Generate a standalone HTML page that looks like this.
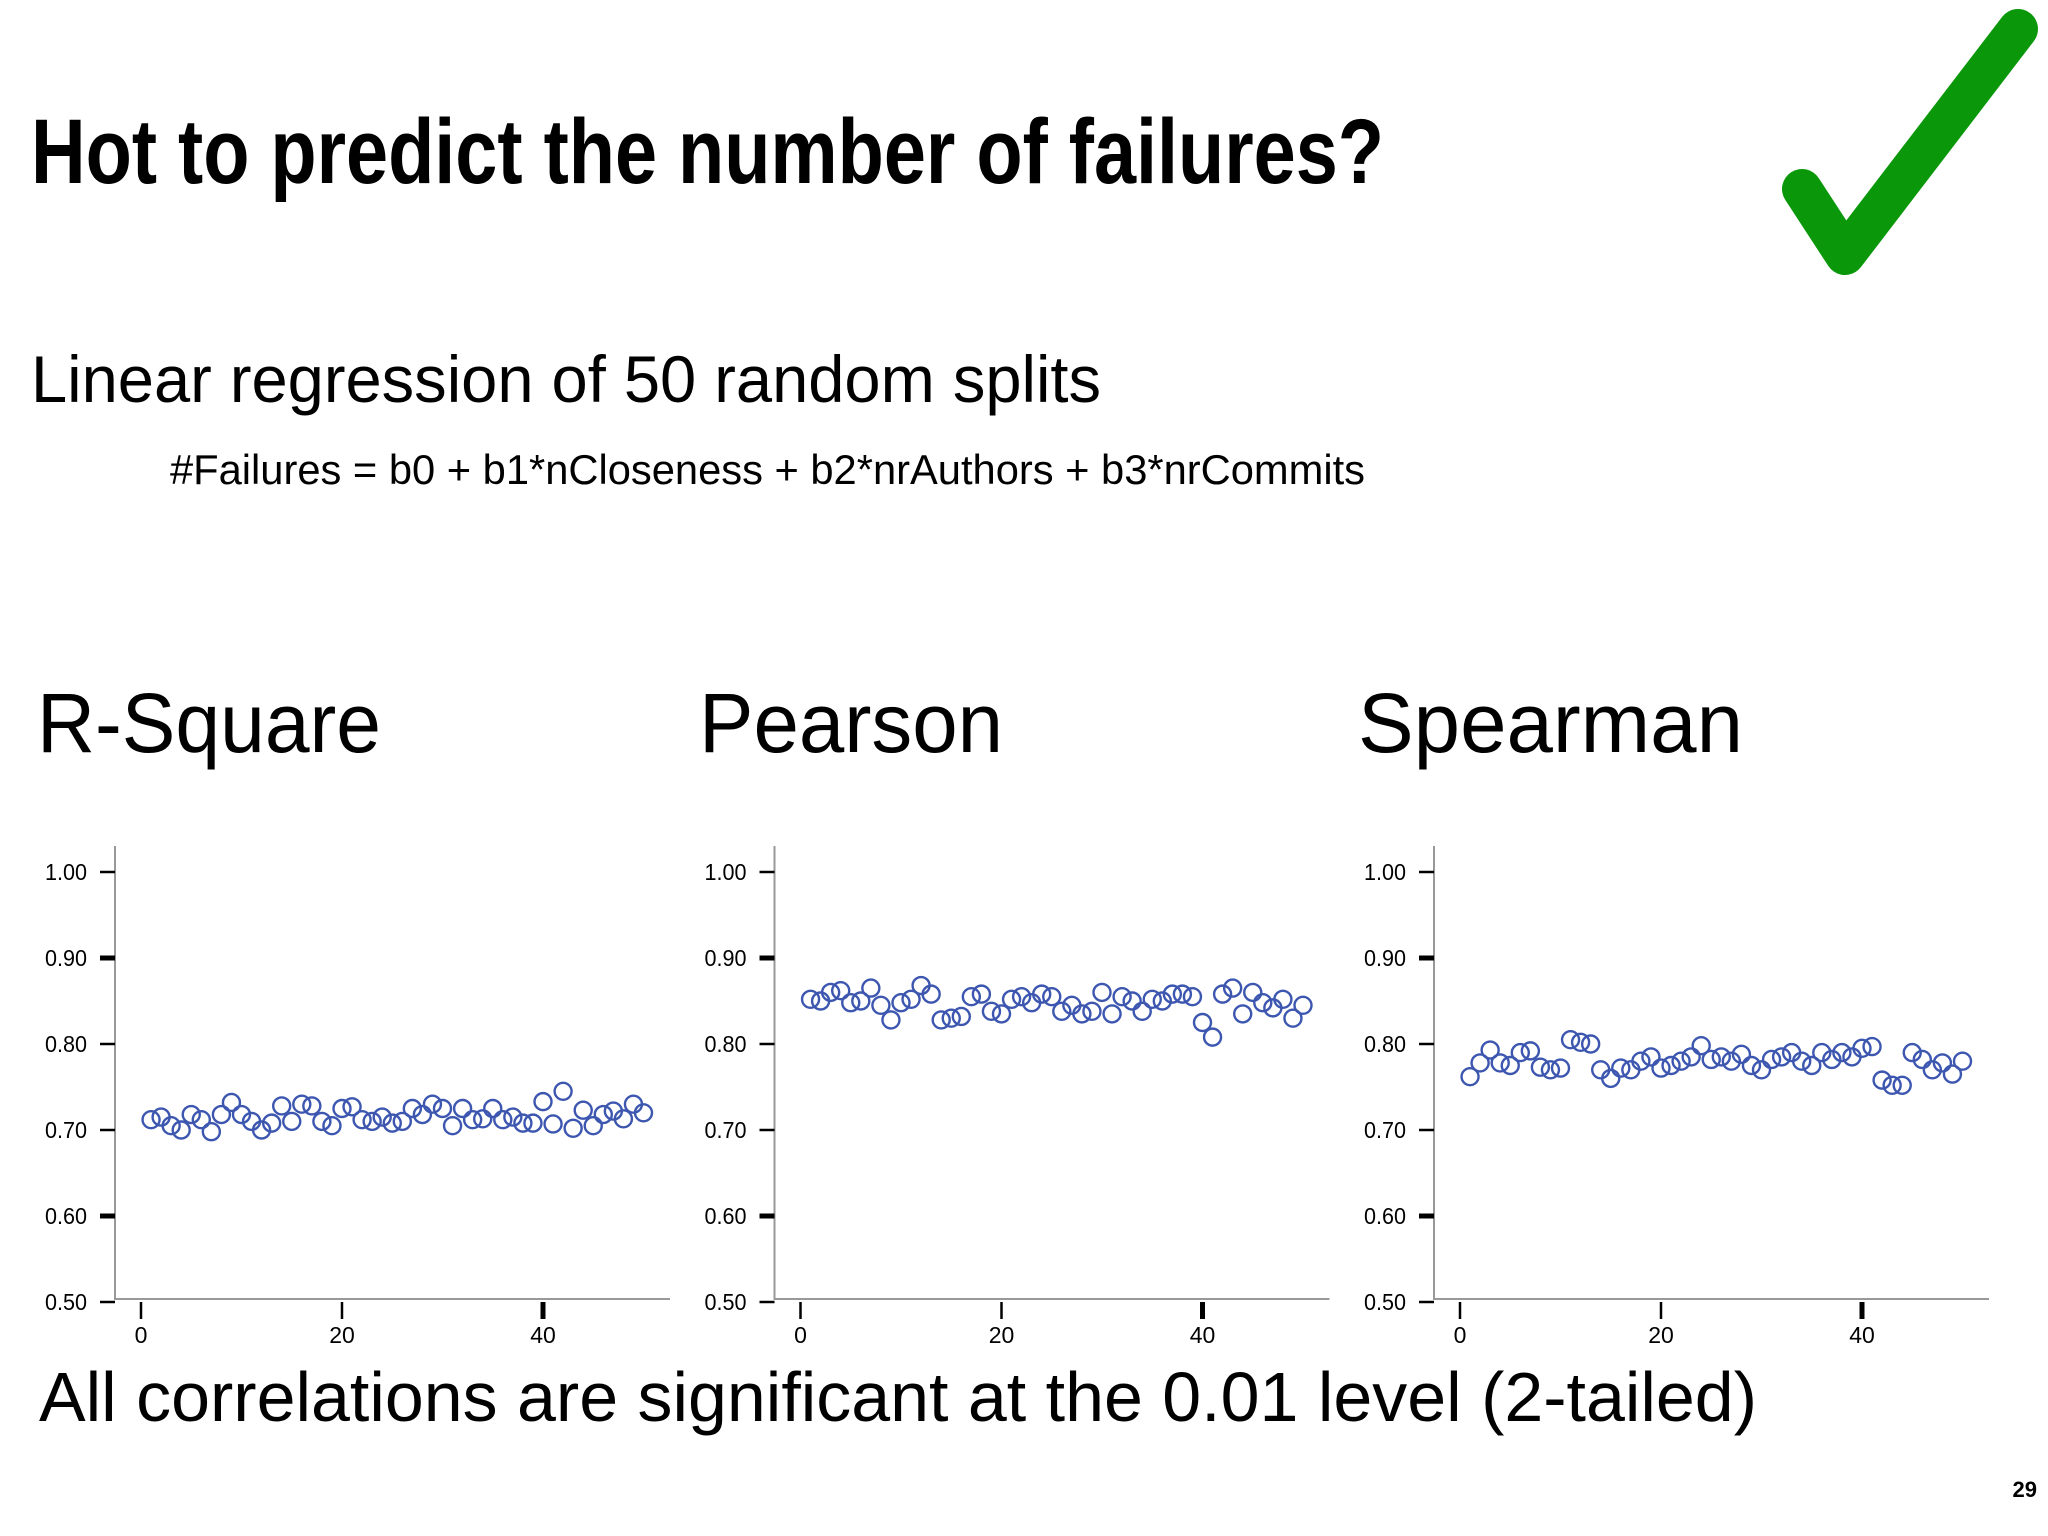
<!DOCTYPE html>
<html><head><meta charset="utf-8"><style>
html,body{margin:0;padding:0;background:#fff;}
svg{display:block;}
</style></head><body>
<svg id="slide" width="2048" height="1536" viewBox="0 0 2048 1536" xmlns="http://www.w3.org/2000/svg" font-family="Liberation Sans, sans-serif">
<rect width="2048" height="1536" fill="#fff"/>
<text x="31" y="183" font-size="92" font-weight="bold" textLength="1353" lengthAdjust="spacingAndGlyphs">Hot to predict the number of failures?</text>
<polyline points="1802,189 1845,255 2018,29" fill="none" stroke="#0a980a" stroke-width="40" stroke-linecap="round" stroke-linejoin="round"/>
<text x="31" y="402" font-size="66" textLength="1070" lengthAdjust="spacingAndGlyphs">Linear regression of 50 random splits</text>
<text x="170" y="484" font-size="42" textLength="1195" lengthAdjust="spacingAndGlyphs">#Failures = b0 + b1*nCloseness + b2*nrAuthors + b3*nrCommits</text>
<text x="37" y="752" font-size="84" textLength="344" lengthAdjust="spacingAndGlyphs">R-Square</text>
<text x="699" y="752" font-size="84" textLength="304" lengthAdjust="spacingAndGlyphs">Pearson</text>
<text x="1358" y="752" font-size="84" textLength="385" lengthAdjust="spacingAndGlyphs">Spearman</text>
<g id="charts"></g>
<text x="39" y="1421" font-size="70" textLength="1718" lengthAdjust="spacingAndGlyphs">All correlations are significant at the 0.01 level (2-tailed)</text>
<text x="2037" y="1497" font-size="22" font-weight="bold" text-anchor="end">29</text>
</svg>
<script>
const yTicks=[1.00,0.90,0.80,0.70,0.60,0.50];
const yTickLabels=["1.00","0.90","0.80","0.70","0.60","0.50"];
const xTicks=[0,20,40];
const rsquare=[0.712,0.715,0.705,0.700,0.718,0.712,0.698,0.718,0.732,0.718,0.710,0.700,0.708,0.728,0.710,0.730,0.728,0.710,0.705,0.725,0.727,0.712,0.710,0.715,0.708,0.710,0.725,0.718,0.730,0.725,0.705,0.725,0.712,0.713,0.725,0.712,0.715,0.708,0.708,0.733,0.707,0.745,0.702,0.723,0.705,0.718,0.722,0.713,0.730,0.720];
const pearson=[0.852,0.850,0.860,0.862,0.848,0.850,0.865,0.845,0.828,0.848,0.852,0.868,0.858,0.828,0.830,0.832,0.855,0.858,0.838,0.835,0.852,0.855,0.848,0.858,0.855,0.838,0.845,0.835,0.838,0.860,0.835,0.855,0.850,0.838,0.852,0.850,0.858,0.858,0.855,0.825,0.808,0.858,0.865,0.835,0.860,0.848,0.842,0.852,0.830,0.845];
const spearman=[0.762,0.778,0.793,0.778,0.775,0.790,0.792,0.773,0.770,0.772,0.805,0.802,0.800,0.770,0.760,0.772,0.770,0.780,0.785,0.772,0.775,0.780,0.785,0.798,0.782,0.785,0.780,0.788,0.775,0.770,0.782,0.785,0.790,0.780,0.775,0.790,0.782,0.790,0.785,0.795,0.797,0.758,0.752,0.752,0.790,0.782,0.770,0.778,0.765,0.780];
const seriesList=[["rsquare",rsquare],["pearson",pearson],["spearman",spearman]];
const NS="http://www.w3.org/2000/svg";
const root=document.getElementById('charts');
function mk(tag,attrs,parent){const e=document.createElementNS(NS,tag);for(const k in attrs)e.setAttribute(k,attrs[k]);parent.appendChild(e);return e;}
seriesList.forEach((s,i)=>{
  const ox=115+i*659.5;
  const yS=v=>1302-(v-0.5)*860;
  const xS=v=>ox+26+v*10.05;
  const g=mk('g',{},root);
  
  
  const ya=mk('line',{x1:ox,y1:846,x2:ox,y2:1300,stroke:'#999','stroke-width':2},g);
  
  
  const xa=mk('line',{x1:ox,y1:1299,x2:ox+555,y2:1299,stroke:'#999','stroke-width':2},g);
  
  
  yTicks.forEach((t,j)=>{
    const y=yS(t);const thick=(t===0.9||t===0.6)?5:2.5;
    const tk=mk('line',{x1:ox-15,y1:y,x2:ox,y2:y,stroke:'#000','stroke-width':thick},g);
    
    
    const tl=mk('text',{x:ox-28,y:y+8,'font-size':23,'text-anchor':'end',textLength:42,lengthAdjust:'spacingAndGlyphs'},g);
    tl.textContent=yTickLabels[j];
    
    
  });
  xTicks.forEach((t,j)=>{
    const x=xS(t);const thick=j===2?5:2.5;
    const tk=mk('line',{x1:x,y1:1302,x2:x,y2:1319,stroke:'#000','stroke-width':thick},g);
    
    
    const tl=mk('text',{x:x,y:1343,'font-size':23,'text-anchor':'middle'},g);
    tl.textContent=String(t);
    
    
  });
  s[1].forEach((v,k)=>{
    const c=mk('circle',{cx:xS(k+1),cy:yS(v),r:8.5,fill:'none',stroke:'#3d57b0','stroke-width':2.4},g);
    
    
  });
});
</script>
</body></html>
